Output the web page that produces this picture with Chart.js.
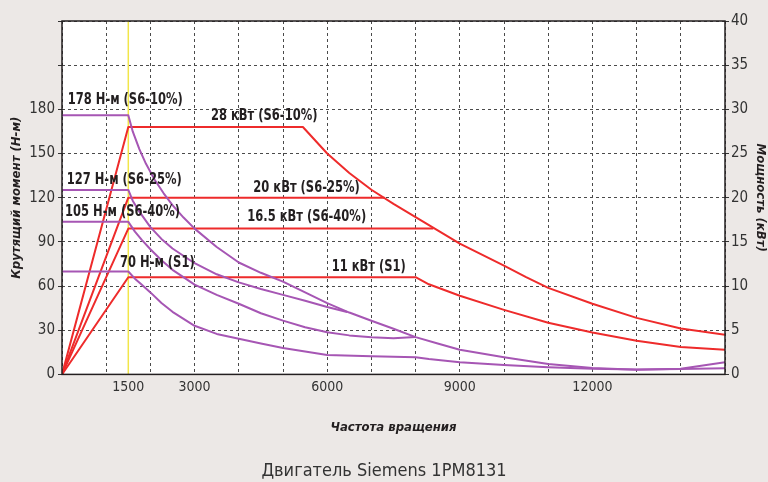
<!DOCTYPE html>
<html>
<head>
<meta charset="utf-8">
<script src="https://cdn.jsdelivr.net/npm/chart.js@4.4.1/dist/chart.umd.min.js"></script>
<style>
  html, body { margin: 0; padding: 0; background: #ece8e6; }
  #wrap { width: 768px; height: 482px; }
</style>
</head>
<body>
<div id="wrap"><canvas id="moteur" width="768" height="482"></canvas></div>
<script>
const NARROW = "'Liberation Sans Narrow', 'DejaVu Sans Condensed', sans-serif";

// оси
const xTicks = [0, 1000, 1500, 2000, 3000, 4000, 5000, 6000, 7000, 8000, 9000, 10000, 11000, 12000, 13000, 14000, 15000];
const xLabels = [1500, 3000, 6000, 9000, 12000];
const yMaxLabel = 180;

// крутящий момент, Н-м
const rpmTq10 = [0, 1500, 1600, 1750, 1900, 2100, 2300, 2500, 2750, 3000, 3500, 4000, 4500, 5000, 5500, 6000, 6500, 7000, 7500, 8000, 8500, 9000, 10000, 11000, 12000, 13000, 14000, 15000];
const tq10 = [176, 176, 165, 153, 143, 132, 123, 115, 106.5, 99, 86.5, 76, 69, 63, 55.7, 48.4, 42, 36.4, 31, 25.3, 21, 16.8, 11.7, 7.1, 4.3, 3.2, 3.9, 8.3];

const rpmTq25 = [0, 1500, 1600, 1750, 2000, 2250, 2500, 3000, 3500, 4000, 4500, 5000, 5500, 6000, 6450];
const tq25 = [125.3, 125.3, 118, 110.5, 100, 92, 85.5, 75.5, 68, 62.5, 58, 54, 50, 45.8, 42.4];

const rpmTq40 = [0, 1500, 1650, 1800, 2000, 2250, 2500, 3000, 3500, 4000, 4500, 5000, 5500, 6000, 6500, 7000, 7500, 8000];
const tq40 = [103.6, 103.6, 97, 91.5, 85, 77.5, 71, 61, 54, 48, 41.5, 36.5, 32, 28.6, 26.5, 25.2, 24.6, 25.4];

const rpmTqS1 = [0, 1500, 1650, 1800, 2000, 2250, 2500, 3000, 3500, 4000, 4500, 5000, 5500, 6000, 7000, 8000, 8300, 9000, 10000, 11000, 12000, 13000, 14000, 15000];
const tqS1 = [69.9, 69.9, 65, 61, 55.7, 48.5, 42.5, 33, 27.5, 24.2, 21, 18, 15.5, 13.2, 12.3, 11.7, 10.5, 8.3, 6.4, 4.9, 3.8, 3.3, 3.6, 4.2];

// мощность, кВт
const rpmPw10 = [0, 1500, 5450, 6000, 6500, 7000, 7500, 8000, 8500, 9000, 10000, 10500, 11000, 12000, 13000, 14000, 15000];
const pw10 = [0, 28, 28, 25, 22.8, 20.9, 19.3, 17.8, 16.3, 14.8, 12.3, 11, 9.8, 8.0, 6.4, 5.2, 4.5];

const rpmPw25 = [0, 1500, 7300];
const pw25 = [0, 20, 20];

const rpmPw40 = [0, 1500, 8400];
const pw40 = [0, 16.5, 16.5];

const rpmPwS1 = [0, 1500, 8000, 8300, 9000, 10000, 11000, 12000, 13000, 14000, 15000];
const pwS1 = [0, 11, 11, 10.2, 8.9, 7.3, 5.85, 4.75, 3.8, 3.1, 2.8];

// 1500 об/мин
const rpmMark = [1500, 1500];
const tqMark = [0, 240];

const pts = (xs, ys) => xs.map((x, i) => ({ x, y: ys[i] }));

const PURPLE = '#a656b4';
const RED = '#ee2b2b';

const torque = (data) => ({ data, yAxisID: 'y', borderColor: PURPLE, borderWidth: 2, order: 1 });
const power = (data) => ({ data, yAxisID: 'y1', borderColor: RED, borderWidth: 2, order: 2 });

// подписи на поле графика (в единицах осей)
const notes = [
  { text: '178 Н-м (S6-10%)', rpm: 129, nm: 186.4 },
  { text: '127 Н-м (S6-25%)', rpm: 106, nm: 132.1 },
  { text: '105 Н-м (S6-40%)', rpm: 68, nm: 110.2 },
  { text: '70 Н-м (S1)', rpm: 1312, nm: 75.8 },
  { text: '28 кВт (S6-10%)', rpm: 3371, nm: 175.7 },
  { text: '20 кВт (S6-25%)', rpm: 4328, nm: 126.7 },
  { text: '16.5 кВт (S6-40%)', rpm: 4192, nm: 106.9 },
  { text: '11 кВт (S1)', rpm: 6102, nm: 73.3 },
];
const SQUEEZE = 0.8;

const fond = {
  id: 'fond',
  beforeDraw(chart) {
    const { ctx, chartArea: a } = chart;
    ctx.save();
    ctx.fillStyle = '#ece8e6';
    ctx.fillRect(0, 0, chart.width, chart.height);
    ctx.fillStyle = '#ffffff';
    ctx.fillRect(a.left, a.top, a.right - a.left, a.bottom - a.top);
    ctx.restore();
  },
  afterDatasetsDraw(chart) {
    const { ctx, chartArea: a, scales } = chart;
    ctx.save();
    ctx.strokeStyle = '#231f20';
    ctx.lineWidth = 1.5;
    ctx.strokeRect(a.left, a.top, a.right - a.left, a.bottom - a.top);
    ctx.fillStyle = '#231f20';
    ctx.font = 'bold 16px ' + NARROW;
    ctx.textAlign = 'left';
    ctx.textBaseline = 'middle';
    ctx.scale(SQUEEZE, 1);
    notes.forEach(n => {
      ctx.fillText(n.text, scales.x.getPixelForValue(n.rpm) / SQUEEZE, scales.y.getPixelForValue(n.nm));
    });
    ctx.restore();
  }
};

const gridColor = '#4a4a4a';

new Chart(document.getElementById('moteur'), {
  type: 'line',
  data: {
    datasets: [
      torque(pts(rpmTq10, tq10)),
      torque(pts(rpmTq25, tq25)),
      torque(pts(rpmTq40, tq40)),
      torque(pts(rpmTqS1, tqS1)),
      power(pts(rpmPw10, pw10)),
      power(pts(rpmPw25, pw25)),
      power(pts(rpmPw40, pw40)),
      power(pts(rpmPwS1, pwS1)),
      { data: pts(rpmMark, tqMark), yAxisID: 'y', borderColor: '#f2e64a', borderWidth: 1.5, order: 10 },
    ],
  },
  options: {
    responsive: false,
    devicePixelRatio: 1,
    animation: false,
    elements: {
      point: { radius: 0 },
      line: { tension: 0, fill: false, borderJoinStyle: 'round' },
    },
    layout: { padding: { top: 21, left: 0, right: 0, bottom: 0 } },
    plugins: {
      legend: { display: false },
      tooltip: { enabled: false },
      title: {
        display: true,
        position: 'bottom',
        text: 'Двигатель Siemens 1PM8131',
        color: '#333333',
        font: { family: NARROW, size: 18, weight: 'normal' },
        padding: { top: 8, bottom: 0 },
      },
    },
    scales: {
      x: {
        type: 'linear',
        min: 0,
        max: 15000,
        afterBuildTicks: (s) => { s.ticks = xTicks.map(v => ({ value: v })); },
        afterFit: (s) => { s.height = 78; },
        ticks: {
          autoSkip: false,
          maxRotation: 0,
          padding: 5,
          color: '#333333',
          font: { family: NARROW, size: 14 },
          callback: (v) => (xLabels.includes(v) ? String(v) : ''),
        },
        grid: {
          color: (c) => (c.tick && c.tick.value === 1500 ? 'rgba(0,0,0,0)' : gridColor),
          lineWidth: 1,
          drawTicks: false,
          tickLength: 0,
        },
        border: { display: false, dash: [3, 3] },
        title: {
          display: true,
          text: 'Частота вращения',
          color: '#231f20',
          font: { family: NARROW, size: 13, weight: 'bold', style: 'italic' },
          padding: { top: 0, bottom: 17 },
        },
      },
      y: {
        position: 'left',
        min: 0,
        max: 240,
        afterFit: (s) => { s.width = 62; },
        ticks: {
          stepSize: 30,
          padding: 3,
          color: '#333333',
          font: { family: NARROW, size: 15 },
          callback: (v) => (v <= yMaxLabel ? String(v) : ''),
        },
        grid: { color: gridColor, lineWidth: 1, tickLength: 4, tickColor: '#333333' },
        border: { display: false, dash: [3, 3] },
        title: {
          display: true,
          text: 'Крутящий момент (Н-м)',
          color: '#231f20',
          font: { family: NARROW, size: 13, weight: 'bold', style: 'italic' },
          padding: { top: 9, bottom: 0 },
        },
      },
      y1: {
        position: 'right',
        min: 0,
        max: 40,
        afterFit: (s) => { s.width = 43; },
        ticks: {
          stepSize: 5,
          padding: 2,
          color: '#333333',
          font: { family: NARROW, size: 15 },
        },
        grid: { drawOnChartArea: false, tickLength: 4, tickColor: '#333333' },
        border: { display: false },
        title: {
          display: true,
          text: 'Мощность (кВт)',
          color: '#231f20',
          font: { family: NARROW, size: 13, weight: 'bold', style: 'italic' },
          padding: { top: 0, bottom: 0 },
        },
      },
    },
  },
  plugins: [fond],
});
</script>
</body>
</html>
